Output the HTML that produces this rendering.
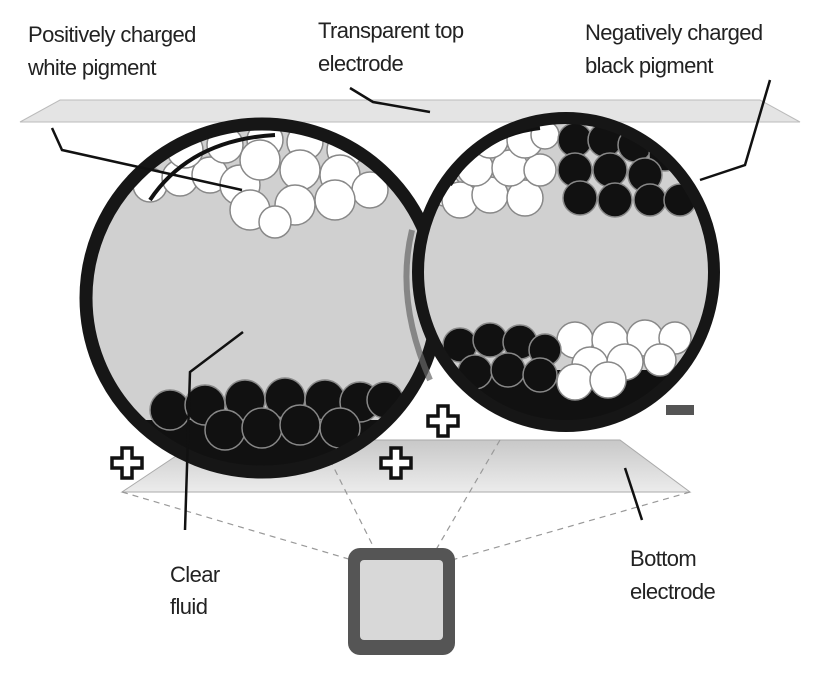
<!DOCTYPE html>
<html><head><style>
body{margin:0;background:#fff;width:820px;height:694px;overflow:hidden}
text{font-family:"Liberation Sans",sans-serif;font-size:22px;fill:#222;letter-spacing:-0.6px}
</style></head><body>
<svg width="820" height="694" viewBox="0 0 820 694" xmlns="http://www.w3.org/2000/svg">
<defs>
<clipPath id="cl"><ellipse cx="262" cy="298" rx="172" ry="170"/></clipPath>
<clipPath id="cr"><ellipse cx="566" cy="272" rx="144" ry="150"/></clipPath>
<linearGradient id="bp" x1="0" y1="0" x2="0" y2="1"><stop offset="0" stop-color="#c8c8c8"/><stop offset="1" stop-color="#ececec"/></linearGradient>
<path id="plus" d="M-5,-15 H5 V-5 H15 V5 H5 V15 H-5 V5 H-15 V-5 H-5 Z" fill="#fff" stroke="#111" stroke-width="3.5"/>
</defs>
<polygon points="60,100 760,100 800,122 20,122" fill="#e4e4e4" stroke="#bbb" stroke-width="1"/>
<polygon points="200,440 620,440 690,492 122,492" fill="url(#bp)" stroke="#aaa" stroke-width="1"/>
<g stroke="#999" stroke-width="1.2" stroke-dasharray="6,5" fill="none">
<line x1="122" y1="492" x2="352" y2="560"/>
<line x1="690" y1="492" x2="452" y2="560"/>
<line x1="320" y1="440" x2="380" y2="560"/>
<line x1="500" y1="440" x2="430" y2="560"/>
</g>
<rect x="348" y="548" width="107" height="107" rx="12" fill="#555"/>
<rect x="360" y="560" width="83" height="80" rx="4" fill="#d8d8d8"/>
<ellipse cx="262" cy="298" rx="176" ry="174" fill="#d0d0d0"/>
<g clip-path="url(#cl)">
<rect x="80" y="420" width="370" height="70" fill="#111"/>
<g fill="#111" stroke="#888" stroke-width="1.5">
<circle cx="170" cy="410" r="20"/><circle cx="205" cy="405" r="20"/><circle cx="245" cy="400" r="20"/><circle cx="285" cy="398" r="20"/><circle cx="325" cy="400" r="20"/><circle cx="360" cy="402" r="20"/><circle cx="385" cy="400" r="18"/>
<circle cx="225" cy="430" r="20"/><circle cx="262" cy="428" r="20"/><circle cx="300" cy="425" r="20"/><circle cx="340" cy="428" r="20"/>
</g>
<g fill="#fff" stroke="#888" stroke-width="1.5">
<circle cx="150" cy="185" r="17"/><circle cx="180" cy="178" r="18"/><circle cx="210" cy="175" r="18"/><circle cx="185" cy="150" r="18"/><circle cx="225" cy="145" r="18"/><circle cx="265" cy="140" r="18"/><circle cx="305" cy="142" r="18"/><circle cx="345" cy="150" r="18"/>
<circle cx="240" cy="185" r="20"/><circle cx="300" cy="170" r="20"/><circle cx="340" cy="175" r="20"/><circle cx="370" cy="190" r="18"/><circle cx="260" cy="160" r="20"/>
<circle cx="250" cy="210" r="20"/><circle cx="295" cy="205" r="20"/><circle cx="335" cy="200" r="20"/><circle cx="275" cy="222" r="16"/>
</g>
<path d="M150,200 Q190,140 275,135" stroke="#111" stroke-width="4" fill="none"/>
</g>
<ellipse cx="262" cy="298" rx="176" ry="174" fill="none" stroke="#161616" stroke-width="13"/>
<ellipse cx="566" cy="272" rx="148" ry="154" fill="#d0d0d0"/>
<g clip-path="url(#cr)">
<rect x="420" y="370" width="300" height="70" fill="#111"/>
<g fill="#fff" stroke="#888" stroke-width="1.5">
<circle cx="445" cy="190" r="16"/><circle cx="460" cy="200" r="18"/><circle cx="490" cy="195" r="18"/><circle cx="525" cy="198" r="18"/><circle cx="475" cy="168" r="18"/><circle cx="510" cy="168" r="18"/><circle cx="540" cy="170" r="16"/><circle cx="490" cy="140" r="18"/><circle cx="525" cy="140" r="18"/><circle cx="455" cy="150" r="16"/><circle cx="545" cy="135" r="14"/>
<circle cx="575" cy="340" r="18"/><circle cx="610" cy="340" r="18"/><circle cx="645" cy="338" r="18"/><circle cx="675" cy="338" r="16"/><circle cx="590" cy="365" r="18"/><circle cx="625" cy="362" r="18"/><circle cx="660" cy="360" r="16"/><circle cx="575" cy="382" r="18"/><circle cx="608" cy="380" r="18"/>
</g>
<g fill="#111" stroke="#888" stroke-width="1.5">
<circle cx="575" cy="140" r="17"/><circle cx="605" cy="140" r="17"/><circle cx="635" cy="145" r="17"/><circle cx="665" cy="155" r="16"/><circle cx="575" cy="170" r="17"/><circle cx="610" cy="170" r="17"/><circle cx="645" cy="175" r="17"/><circle cx="580" cy="198" r="17"/><circle cx="615" cy="200" r="17"/><circle cx="650" cy="200" r="16"/><circle cx="680" cy="200" r="16"/>
<circle cx="460" cy="345" r="17"/><circle cx="490" cy="340" r="17"/><circle cx="520" cy="342" r="17"/><circle cx="545" cy="350" r="16"/><circle cx="475" cy="372" r="17"/><circle cx="508" cy="370" r="17"/><circle cx="540" cy="375" r="17"/>
</g>
<path d="M450,185 Q480,135 540,128" stroke="#111" stroke-width="4" fill="none"/>
</g>
<ellipse cx="566" cy="272" rx="148" ry="154" fill="none" stroke="#161616" stroke-width="12"/>
<path d="M412,230 Q395,300 430,380" stroke="#666" stroke-width="6" fill="none" opacity="0.7"/>
<use href="#plus" x="127" y="463"/>
<use href="#plus" x="396" y="463"/>
<use href="#plus" x="443" y="421"/>
<rect x="666" y="405" width="28" height="10" fill="#555"/>
<g stroke="#111" stroke-width="2.5" fill="none">
<polyline points="52,128 62,150 242,190"/>
<polyline points="350,88 373,102 430,112"/>
<polyline points="770,80 745,165 700,180"/>
<polyline points="185,530 190,372 243,332"/>
<polyline points="642,520 625,468"/>
</g>
<text x="28" y="42">Positively charged</text>
<text x="28" y="75">white pigment</text>
<text x="318" y="38">Transparent top</text>
<text x="318" y="71">electrode</text>
<text x="585" y="40">Negatively charged</text>
<text x="585" y="73">black pigment</text>
<text x="170" y="582">Clear</text>
<text x="170" y="614">fluid</text>
<text x="630" y="566">Bottom</text>
<text x="630" y="599">electrode</text>
</svg>
</body></html>
